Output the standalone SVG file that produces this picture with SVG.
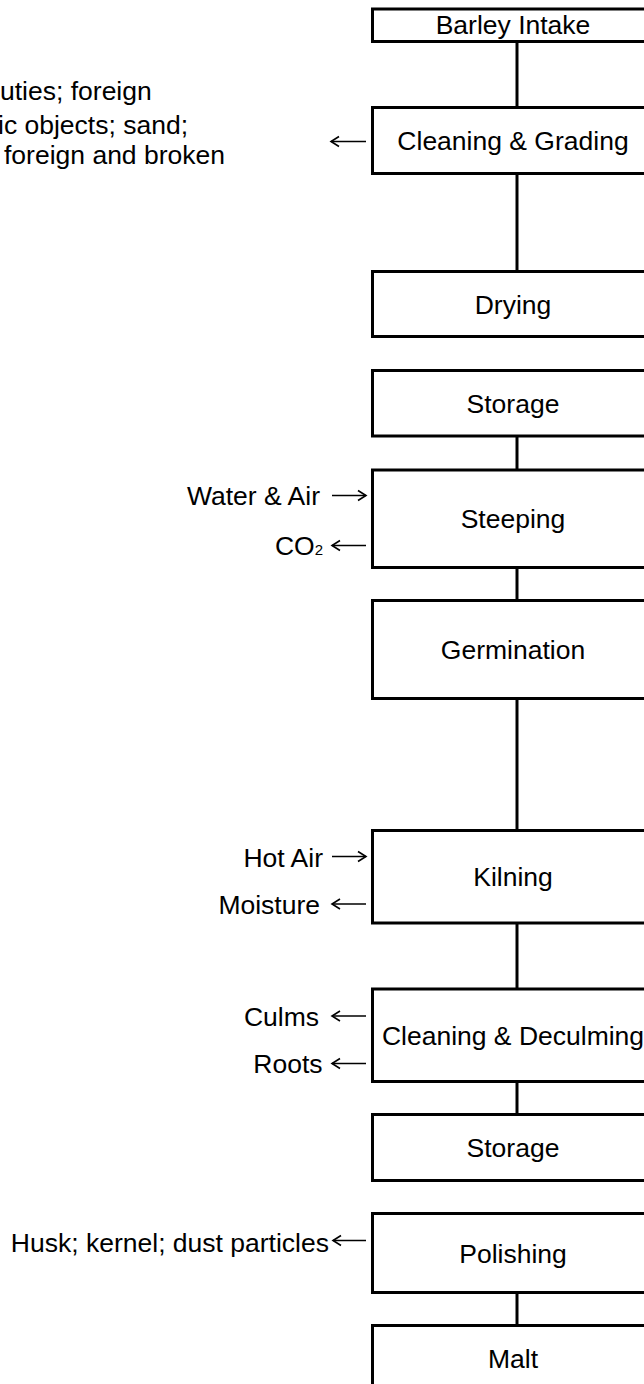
<svg xmlns="http://www.w3.org/2000/svg" width="644" height="1384" viewBox="0 0 644 1384">
<style>
.box{fill:#fff;stroke:#000;stroke-width:3}
.t{font-family:"Liberation Sans",Arial,sans-serif;font-size:26.5px;fill:#000}
.c{text-anchor:middle}
.e{text-anchor:end}
.link{stroke:#000;stroke-width:3;fill:none}
.arr{stroke:#000;stroke-width:1.6;fill:none;marker-end:url(#ah)}
</style>
<defs>
<marker id="ah" markerUnits="userSpaceOnUse" viewBox="-10 -7 12 14" markerWidth="12" markerHeight="14" refX="0" refY="0" orient="auto">
<path d="M-8,-5 L0,0 L-8,5" stroke="#000" stroke-width="1.6" fill="none"/>
</marker>
</defs>
<rect width="644" height="1384" fill="#fff"/>
<g id="connectors">
<line class="link" x1="517" y1="41.5" x2="517" y2="107.5"/>
<line class="link" x1="517" y1="173.5" x2="517" y2="271.5"/>
<line class="link" x1="517" y1="436" x2="517" y2="470"/>
<line class="link" x1="517" y1="567.5" x2="517" y2="600.5"/>
<line class="link" x1="517" y1="698.5" x2="517" y2="830.5"/>
<line class="link" x1="517" y1="923" x2="517" y2="989"/>
<line class="link" x1="517" y1="1081.5" x2="517" y2="1114.5"/>
<line class="link" x1="517" y1="1292.5" x2="517" y2="1325.5"/>
<path class="arr" d="M366,141.5 H331"/>
<path class="arr" d="M332,495.5 H366"/>
<path class="arr" d="M366,545.5 H332"/>
<path class="arr" d="M332,856.5 H366"/>
<path class="arr" d="M366,904 H332"/>
<path class="arr" d="M366,1016 H332"/>
<path class="arr" d="M366,1063.5 H332"/>
<path class="arr" d="M366,1240.5 H333"/>
</g>
<g id="barley-intake"><rect class="box" x="372.5" y="9" width="282" height="32.5"/><text class="t c" x="513" y="34">Barley Intake</text></g>
<g id="cleaning-grading"><rect class="box" x="372.5" y="107.5" width="282" height="66"/><text class="t c" x="513" y="149.5">Cleaning &amp; Grading</text>
<text class="t" x="0" y="100">uties; foreign</text>
<text class="t" x="-2" y="134">ic objects; sand;</text>
<text class="t" x="4" y="164">foreign and broken</text></g>
<g id="drying"><rect class="box" x="372.5" y="271.5" width="282" height="65"/><text class="t c" x="513" y="313.5">Drying</text></g>
<g id="storage-1"><rect class="box" x="372.5" y="370.5" width="282" height="65.5"/><text class="t c" x="513" y="412.5">Storage</text></g>
<g id="steeping"><rect class="box" x="372.5" y="470" width="282" height="97.5"/><text class="t c" x="513" y="527.5">Steeping</text>
<text class="t e" x="320" y="505">Water &amp; Air</text>
<text class="t e" x="323" y="555">CO<tspan font-size="15">2</tspan></text></g>
<g id="germination"><rect class="box" x="372.5" y="600.5" width="282" height="98"/><text class="t c" x="513" y="658.5">Germination</text></g>
<g id="kilning"><rect class="box" x="372.5" y="830.5" width="282" height="92.5"/><text class="t c" x="513" y="886">Kilning</text>
<text class="t e" x="323" y="866.5">Hot Air</text>
<text class="t e" x="320" y="913.5">Moisture</text></g>
<g id="cleaning-deculming"><rect class="box" x="372.5" y="989" width="282" height="92.5"/><text class="t c" x="513" y="1045">Cleaning &amp; Deculming</text>
<text class="t e" x="319" y="1026">Culms</text>
<text class="t e" x="322.5" y="1073">Roots</text></g>
<g id="storage-2"><rect class="box" x="372.5" y="1114.5" width="282" height="66"/><text class="t c" x="513" y="1157">Storage</text></g>
<g id="polishing"><rect class="box" x="372.5" y="1213.5" width="282" height="79"/><text class="t c" x="513" y="1262.5">Polishing</text>
<text class="t e" x="329" y="1251.5">Husk; kernel; dust particles</text></g>
<g id="malt"><rect class="box" x="372.5" y="1325.5" width="282" height="70"/><text class="t c" x="513" y="1367.5">Malt</text></g>
</svg>
